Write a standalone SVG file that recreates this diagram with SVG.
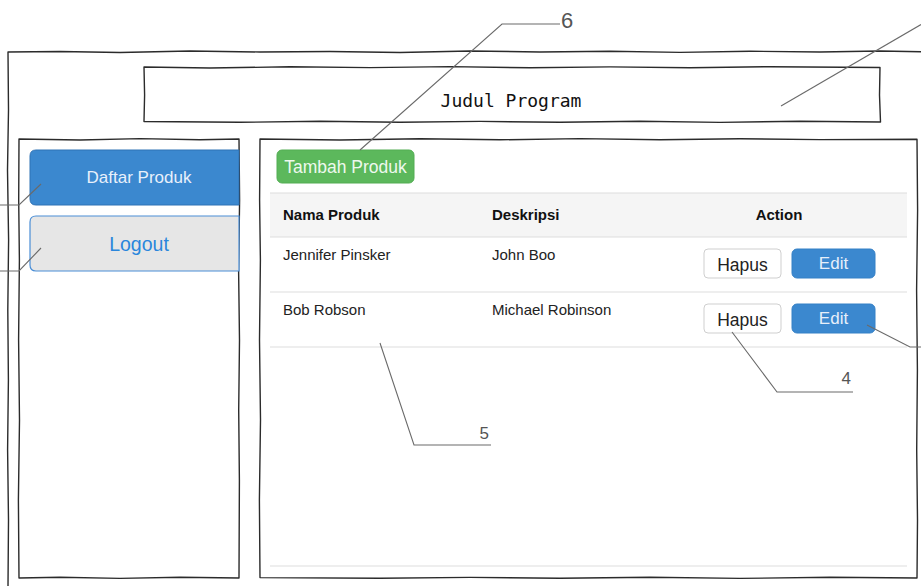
<svg xmlns="http://www.w3.org/2000/svg" width="921" height="586" viewBox="0 0 921 586">
  <style>
    .sketch { fill: none; stroke: #2b2b2b; stroke-width: 1.4; stroke-linejoin: round; }
    .lead { fill: none; stroke: #6a6a6a; stroke-width: 1.1; }
    .sep { stroke: #dedede; stroke-width: 1.2; }
    .ui { font-family: "Liberation Sans", Arial, sans-serif; }
    .th { font-family: "Liberation Sans", Arial, sans-serif; font-size: 15px; font-weight: bold; fill: #111; }
    .td { font-family: "Liberation Sans", Arial, sans-serif; font-size: 15px; fill: #222; }
    .btn-light { fill: #ffffff; stroke: #cfcfcf; stroke-width: 1; }
    .btn-blue { fill: #3b88cf; stroke: #3580c6; stroke-width: 1; }
    .num { font-family: "Liberation Sans", Arial, sans-serif; fill: #555; }
  </style>

  <rect x="0" y="0" width="921" height="586" fill="#ffffff"/>

  <!-- outer window frame (runs off the right and bottom edges) -->
  <g id="window">
    <path class="sketch" d="M921,51.8 L880,51 L820,52 L750,51.2 L680,52.4 L610,51.3 L540,52 L470,51 L400,52.5 L330,51.5 L260,52 L190,51 L120,52.5 L60,51.5 L8,52 L8.5,110 L7.5,170 L8.6,240 L7.8,310 L8.4,380 L7.6,450 L8.5,520 L8,586"/>
  </g>

  <!-- title bar -->
  <g id="header">
    <path class="sketch" fill="#fff" d="M144,67 L210,68 L290,66.8 L370,67.6 L450,66.6 L530,67.8 L610,66.9 L690,67.7 L770,66.7 L880,67.5 L879.5,95 L880.5,122 L800,121.2 L720,122.4 L640,121.3 L560,122.3 L480,121.4 L400,122.2 L320,121.3 L240,122.3 L144,121.5 L144.6,95 Z"/>
    <text x="511" y="107" text-anchor="middle" font-family="DejaVu Sans Mono, monospace" font-size="18" fill="#111">Judul Program</text>
  </g>

  <!-- side menu -->
  <g id="sidebar">
    <path class="sketch" d="M19,139 L80,140 L140,138.6 L200,139.8 L239,139 L239.6,200 L238.6,270 L239.5,340 L238.7,410 L239.4,480 L239,578 L180,577.2 L120,578.4 L60,577.3 L19,578 L18.4,500 L19.5,420 L18.6,340 L19.4,260 L18.7,200 Z"/>
  </g>

  <g id="btn-daftar-produk">
    <path d="M36,150 L239,150 L239,205 L36,205 Q30,205 30,199 L30,156 Q30,150 36,150 Z" fill="#3b88cf" stroke="#2f72b5" stroke-width="1"/>
    <text class="ui" x="139" y="183" text-anchor="middle" font-size="17" fill="#e8f0fb">Daftar Produk</text>
  </g>

  <g id="btn-logout">
    <path d="M36,216 L239,216 L239,271 L36,271 Q30,271 30,265 L30,222 Q30,216 36,216 Z" fill="#e6e6e6" stroke="#4a8ed6" stroke-width="1.2"/>
    <text class="ui" x="139" y="251" text-anchor="middle" font-size="19.5" fill="#2a86dc">Logout</text>
  </g>

  <!-- content panel -->
  <g id="content">
    <path class="sketch" d="M260,139 L340,140 L420,138.7 L500,139.8 L580,138.6 L660,139.7 L740,138.8 L820,139.6 L917,139.2 L917.6,210 L916.6,290 L917.4,370 L916.7,450 L917.5,520 L917,578 L830,577.2 L740,578.4 L650,577.3 L560,578.3 L470,577.4 L380,578.3 L260,577.6 L259.4,500 L260.5,420 L259.5,340 L260.4,260 L259.6,200 Z"/>
  </g>

  <g id="btn-tambah-produk">
    <rect x="277" y="150" width="137" height="33" rx="5" fill="#5cb85c" stroke="#52ad52" stroke-width="1"/>
    <text class="ui" x="345.5" y="173" text-anchor="middle" font-size="17.5" fill="#eef8ee">Tambah Produk</text>
  </g>

  <!-- product table -->
  <g id="table">
    <rect x="270" y="193" width="637" height="44" fill="#f5f5f5"/>
    <line class="sep" x1="270" y1="193" x2="907" y2="193"/>
    <line class="sep" x1="270" y1="237" x2="907" y2="237"/>
    <line class="sep" x1="270" y1="292" x2="907" y2="292"/>
    <line class="sep" x1="270" y1="347" x2="907" y2="347"/>
    <line class="sep" x1="270" y1="566" x2="907" y2="566"/>
    <text class="th" x="283" y="220">Nama Produk</text>
    <text class="th" x="492" y="220">Deskripsi</text>
    <text class="th" x="779" y="220" text-anchor="middle">Action</text>
    <text class="td" x="283" y="260">Jennifer Pinsker</text>
    <text class="td" x="492" y="260">John Boo</text>
    <text class="td" x="283" y="315">Bob Robson</text>
    <text class="td" x="492" y="315">Michael Robinson</text>
  </g>

  <g id="btn-hapus-1">
    <rect class="btn-light" x="704" y="249" width="77" height="29" rx="4"/>
    <text class="ui" x="742.5" y="271" text-anchor="middle" font-size="17.5" fill="#222">Hapus</text>
  </g>
  <g id="btn-edit-1">
    <rect class="btn-blue" x="792" y="249" width="83" height="29" rx="5"/>
    <text class="ui" x="833.5" y="269" text-anchor="middle" font-size="17" fill="#e6effa">Edit</text>
  </g>
  <g id="btn-hapus-2">
    <rect class="btn-light" x="704" y="304" width="77" height="29" rx="4"/>
    <text class="ui" x="742.5" y="326" text-anchor="middle" font-size="17.5" fill="#222">Hapus</text>
  </g>
  <g id="btn-edit-2">
    <rect class="btn-blue" x="792" y="304" width="83" height="29" rx="5"/>
    <text class="ui" x="833.5" y="324" text-anchor="middle" font-size="17" fill="#e6effa">Edit</text>
  </g>

  <!-- callout leader lines -->
  <g id="connectors">
    <path class="lead" d="M0,205 L19,205 L41,184"/>
    <path class="lead" d="M0,271 L19,271 L41,248"/>
    <path class="lead" d="M360,150 L502,24 L560,24"/>
    <path class="lead" d="M781,106 L921,24.5"/>
    <path class="lead" d="M867,325 L910,347 L921,347"/>
    <path class="lead" d="M732,332 L777,392 L853,392"/>
    <path class="lead" d="M380,343 L414,445 L491,445"/>
  </g>

  <g id="callout-labels">
    <text class="num" x="561" y="28" font-size="22">6</text>
    <text class="num" x="851" y="384" font-size="17" text-anchor="end">4</text>
    <text class="num" x="489" y="439" font-size="17" text-anchor="end">5</text>
  </g>
</svg>
